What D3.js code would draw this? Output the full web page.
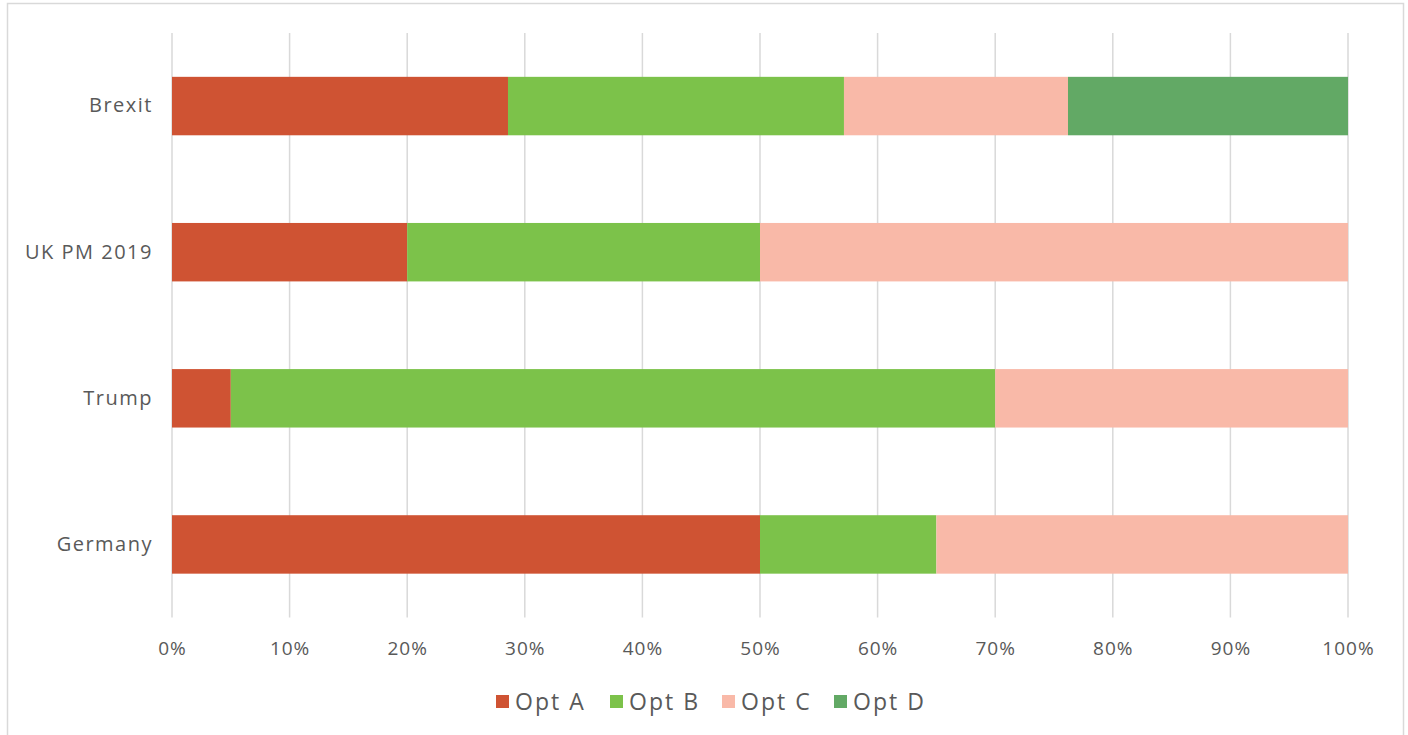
<!DOCTYPE html>
<html>
<head>
<meta charset="utf-8">
<script src="https://cdn.jsdelivr.net/npm/d3@7"></script>
<style>
  body { margin: 0; background: #fff; }
  svg text { font-family: "Open Sans", sans-serif; fill: #595959; }
</style>
</head>
<body>
<div id="chart"></div>
<script>
// data, percent of each row
var categories = ["Brexit", "UK PM 2019", "Trump", "Germany"];
var seriesNames = ["Opt A", "Opt B", "Opt C", "Opt D"];
var optA = [28.57, 20, 5, 50];
var optB = [28.57, 30, 65, 15];
var optC = [19.05, 50, 30, 35];
var optD = [23.81, 0, 0, 0];
var tickValues = [0, 10, 20, 30, 40, 50, 60, 70, 80, 90, 100];
var colors = ["#cf5333", "#7cc24a", "#f9b9a8", "#62a965"];

var width = 1408, height = 735;

// plot area
var plotLeft = 172, plotRight = 1348, plotTop = 33, plotBottom = 617.5;

var svg = d3.select("#chart")
    .append("svg")
    .attr("width", width)
    .attr("height", height);

// outer chart border
svg.append("rect")
    .attr("x", 7.5)
    .attr("y", 3.5)
    .attr("width", 1396)
    .attr("height", 745)
    .attr("fill", "none")
    .attr("stroke", "#d9d9d9")
    .attr("stroke-width", 1.5);

// build rows for the stack
var rows = categories.map(function(c, i) {
    return { cat: c, "Opt A": optA[i], "Opt B": optB[i], "Opt C": optC[i], "Opt D": optD[i] };
});
var stacked = d3.stack().keys(seriesNames)(rows);

var xScale = d3.scaleLinear().domain([0, 100]).range([plotLeft, plotRight]);
var yScale = d3.scaleBand().domain(categories).range([plotTop, plotBottom]).paddingInner(0.6).paddingOuter(0.3);

// gridlines
svg.append("g")
    .selectAll("line")
    .data(tickValues)
    .enter()
    .append("line")
    .attr("x1", function(d) { return xScale(d); })
    .attr("x2", function(d) { return xScale(d); })
    .attr("y1", plotTop)
    .attr("y2", plotBottom)
    .attr("stroke", "#d9d9d9")
    .attr("stroke-width", 1.5);

// bars
svg.append("g")
    .selectAll("g")
    .data(stacked)
    .enter()
    .append("g")
    .attr("fill", function(d, i) { return colors[i]; })
    .selectAll("rect")
    .data(function(d) { return d; })
    .enter()
    .append("rect")
    .attr("x", function(d) { return xScale(d[0]); })
    .attr("width", function(d) { return xScale(d[1]) - xScale(d[0]); })
    .attr("y", function(d) { return yScale(d.data.cat); })
    .attr("height", yScale.bandwidth());

// x axis labels
var xAxis = d3.axisBottom(xScale)
    .tickValues(tickValues)
    .tickSize(0)
    .tickPadding(24)
    .tickFormat(function(d) { return d + "%"; });

var gx = svg.append("g")
    .attr("transform", "translate(0," + plotBottom + ")")
    .call(xAxis);
gx.select(".domain").remove();
gx.selectAll("text")
    .attr("font-size", 19)
    .attr("letter-spacing", 1)
    .style("font-family", "'Open Sans', sans-serif")
    .attr("fill", "#595959");

// y axis labels
var yAxis = d3.axisLeft(yScale).tickSize(0).tickPadding(19);
var gy = svg.append("g")
    .attr("transform", "translate(" + plotLeft + ",0)")
    .call(yAxis);
gy.select(".domain").remove();
gy.selectAll("text")
    .attr("font-size", 20)
    .attr("letter-spacing", 1.5)
    .style("font-family", "'Open Sans', sans-serif")
    .attr("fill", "#595959");

// legend
var legendX = [496, 610, 722, 834];
var legend = svg.append("g")
    .selectAll("g")
    .data(seriesNames)
    .enter()
    .append("g")
    .attr("transform", function(d, i) { return "translate(" + legendX[i] + ",695)"; });

legend.append("rect")
    .attr("width", 13)
    .attr("height", 13)
    .attr("fill", function(d, i) { return colors[i]; });

legend.append("text")
    .attr("x", 19)
    .attr("y", 7)
    .attr("dy", "0.35em")
    .attr("font-size", 23)
    .attr("letter-spacing", 2)
    .text(function(d) { return d; });
</script>
</body>
</html>
